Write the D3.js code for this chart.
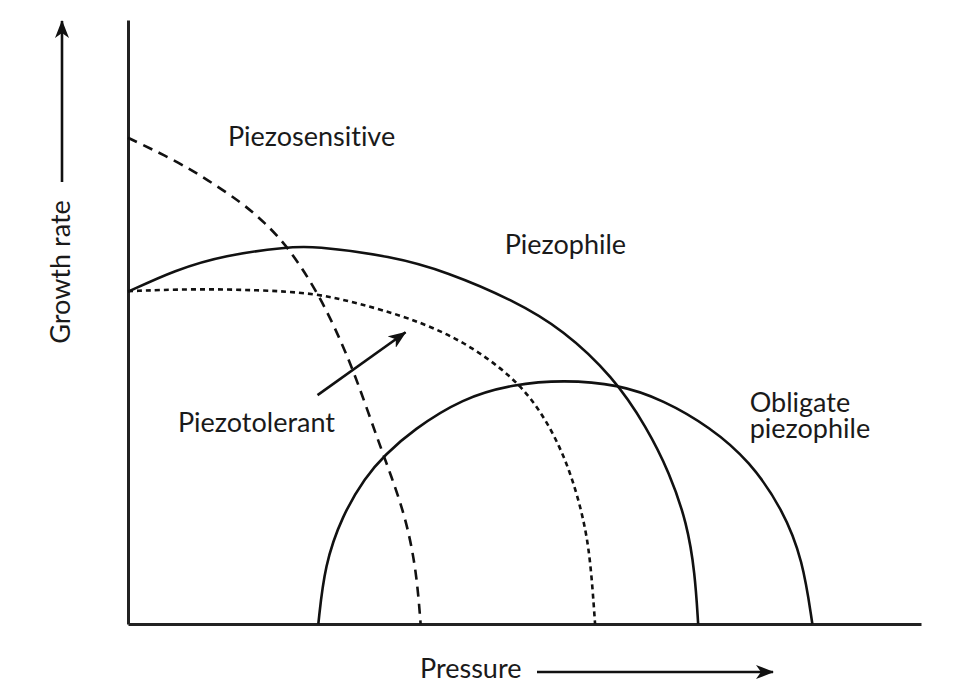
<!DOCTYPE html>
<html lang="en">
<head>
  <meta charset="UTF-8">
  <title>Piezophile growth curves</title>
  <style>
    body { margin: 0; background: #fff; }
    text { font-family: Lato, "Open Sans", sans-serif; fill: #1a1a1a; font-variant-ligatures: none; }
  </style>
</head>
<body>
  <svg id="svg" width="969" height="684"></svg>
  <script src="https://d3js.org/d3.v7.min.js"></script>
  <script>
    // curves: [pressure, growth rate] in arbitrary 0-100 units
    const piezosensitive = [
      [0, 80.5], [5.9, 76.8], [10.1, 73.5], [14.4, 69.7], [17.3, 66.4], [20.2, 62.4],
      [24.0, 54.8], [27.0, 46.5], [29.0, 39.9], [31.5, 30.5], [33.4, 23.8],
      [35.2, 16.7], [36.4, 8.4], [36.9, 0]
    ]
    const piezotolerant = [
      [0, 55.1], [8.1, 55.5], [16.4, 55.3], [23.6, 54.8], [29.0, 53.1], [35.3, 50.8],
      [42.2, 47.0], [48.6, 40.9], [52.0, 35.4], [54.5, 29.3], [56.1, 23.8],
      [57.4, 17.7], [58.3, 11.1], [58.9, 0]
    ]
    const piezophile = [
      [0, 55.0], [5.9, 58.6], [12.2, 61.1], [20.2, 62.4], [23.2, 62.6], [33.3, 60.9],
      [40.2, 58.3], [48.6, 53.6], [54.9, 48.7], [61.2, 40.9], [65.4, 32.6],
      [68.3, 25.0], [70.5, 16.7], [71.5, 8.4], [71.9, 0]
    ]
    const obligate = [
      [24.0, 0], [24.8, 9.8], [27.0, 17.9], [29.9, 24.3], [32.4, 28.0], [35.9, 32.1],
      [42.2, 37.4], [48.6, 39.7], [54.9, 40.4], [61.8, 39.7], [67.5, 37.1],
      [73.4, 32.6], [78.4, 27.0], [82.6, 18.9], [85.1, 10.6], [86.3, 0]
    ]

    const seriesNames = ['Piezosensitive', 'Piezotolerant', 'Piezophile', 'Obligate piezophile']
    const seriesData = [piezosensitive, piezotolerant, piezophile, obligate]
    const seriesDash = ['10,7', '5,4', null, null]

    // label anchors in data units (left edge, baseline)
    const labelPos = [[12.6, 79.1], [6.3, 31.8], [47.5, 61.3], [78.4, 35.1]]
    // arrow pointing at the piezotolerant curve
    const pointer = [[23.9, 37.9], [35.0, 48.3]]

    const svg = d3.select('#svg')

    const x = d3.scaleLinear().domain([0, 100]).range([128, 921])
    const y = d3.scaleLinear().domain([0, 100]).range([624, 20])

    const defs = svg.append('defs')
    defs.append('marker')
      .attr('id', 'head')
      .attr('viewBox', '0 0 18 14')
      .attr('refX', 17)
      .attr('refY', 7)
      .attr('markerWidth', 18)
      .attr('markerHeight', 14)
      .attr('markerUnits', 'userSpaceOnUse')
      .attr('orient', 'auto')
      .append('path')
      .attr('d', 'M0,0 L18,7 L0,14 L5,7 Z')
      .attr('fill', '#111')

    // axes: plain lines, no ticks
    const axisY = d3.axisLeft(y).tickValues([]).tickSizeOuter(0)
    const axisX = d3.axisBottom(x).tickValues([]).tickSizeOuter(0)
    svg.append('g').attr('transform', `translate(${x(0)},0)`).call(axisY)
      .select('.domain').attr('stroke', '#222').attr('stroke-width', 3)
    svg.append('g').attr('transform', `translate(0,${y(0)})`).call(axisX)
      .select('.domain').attr('stroke', '#222').attr('stroke-width', 3)

    const line = d3.line()
      .x(d => x(d[0]))
      .y(d => y(d[1]))
      .curve(d3.curveBasis)

    svg.append('g')
      .selectAll('path')
      .data(seriesData)
      .enter()
      .append('path')
      .attr('d', line)
      .attr('fill', 'none')
      .attr('stroke', '#111')
      .attr('stroke-width', 2.6)
      .attr('stroke-dasharray', (d, i) => seriesDash[i])

    // labels
    const labels = svg.append('g').attr('font-size', 27)
    labels.selectAll('text')
      .data(seriesNames)
      .enter()
      .append('text')
      .attr('x', (d, i) => x(labelPos[i][0]))
      .attr('y', (d, i) => y(labelPos[i][1]))
      .each(function (d) {
        const words = d === 'Obligate piezophile' ? ['Obligate', 'piezophile'] : [d]
        d3.select(this).selectAll('tspan')
          .data(words)
          .enter()
          .append('tspan')
          .attr('x', d3.select(this).attr('x'))
          .attr('dy', (w, j) => j === 0 ? 0 : 26)
          .text(w => w)
      })

    svg.append('line')
      .attr('x1', x(pointer[0][0])).attr('y1', y(pointer[0][1]))
      .attr('x2', x(pointer[1][0])).attr('y2', y(pointer[1][1]))
      .attr('stroke', '#111')
      .attr('stroke-width', 2.6)
      .attr('marker-end', 'url(#head)')

    // axis titles with their arrows
    svg.append('text')
      .attr('x', 420).attr('y', 678)
      .attr('font-size', 27)
      .text('Pressure')
    svg.append('line')
      .attr('x1', 537).attr('y1', 672).attr('x2', 773).attr('y2', 672)
      .attr('stroke', '#111').attr('stroke-width', 2.6)
      .attr('marker-end', 'url(#head)')

    svg.append('text')
      .attr('transform', 'translate(70,272) rotate(-90)')
      .attr('text-anchor', 'middle')
      .attr('font-size', 27)
      .text('Growth rate')
    svg.append('line')
      .attr('x1', 62).attr('y1', 182).attr('x2', 62).attr('y2', 21)
      .attr('stroke', '#111').attr('stroke-width', 2.6)
      .attr('marker-end', 'url(#head)')
  </script>
</body>
</html>
